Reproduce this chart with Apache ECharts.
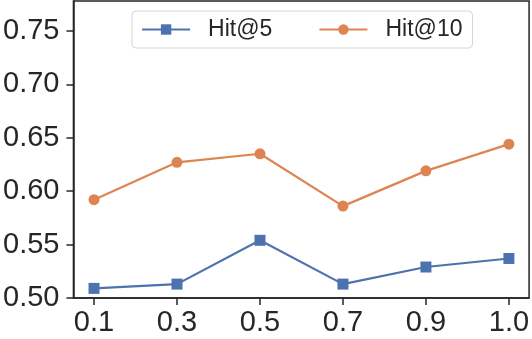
<!DOCTYPE html>
<html>
<head>
<meta charset="utf-8">
<script src="https://cdn.jsdelivr.net/npm/echarts@6/dist/echarts.min.js"></script>
<style>
html, body { margin: 0; padding: 0; background: #fff; }
#main { width: 532px; height: 339px; }
</style>
</head>
<body>
<div id="main"></div>
<script>
(function(){
// x tick labels (evenly spaced)
var xLabels = ['0.1', '0.3', '0.5', '0.7', '0.9', '1.0'];
var yTicks = [0.50, 0.55, 0.60, 0.65, 0.70, 0.75];
var hit5 = [0.509, 0.513, 0.554, 0.513, 0.529, 0.537];
var hit10 = [0.592, 0.627, 0.635, 0.586, 0.619, 0.644];

var ink = '#262626';
var font = 'Liberation Sans, Arial, sans-serif';

function pairs(arr){
    return arr.map(function (v, i) { return [i, v]; });
}

var myChart = echarts.init(document.getElementById('main'));
var option = {
    animation: false,
    backgroundColor: '#fff',
    grid: {
        left: 72, right: 1, top: 1, bottom: 41,
        show: true,
        borderColor: ink,
        borderWidth: 1.5
    },
    legend: {
        left: 132, top: 11,
        padding: [7, 10, 7, 9],
        itemWidth: 48,
        itemHeight: 13,
        itemGap: 46,
        backgroundColor: '#fff',
        borderColor: '#d6d6d6',
        borderWidth: 1,
        borderRadius: 4,
        lineStyle: { width: 2.2 },
        textStyle: { fontFamily: font, fontSize: 23, color: ink, padding: [0, 0, 0, 13] },
        data: ['Hit@5', 'Hit@10']
    },
    xAxis: {
        type: 'value',
        min: -0.248, max: 5.243,
        splitLine: { show: false },
        axisLine: { onZero: false, lineStyle: { color: ink, width: 1.5 } },
        axisTick: { length: 7, lineStyle: { color: ink, width: 1.5 }, customValues: [0, 1, 2, 3, 4, 5] },
        axisLabel: {
            customValues: [0, 1, 2, 3, 4, 5],
            margin: 10,
            fontFamily: font, fontSize: 29, color: ink,
            formatter: function (v) { return xLabels[Math.round(v)]; }
        }
    },
    yAxis: {
        type: 'value',
        min: 0.5, max: 0.778,
        splitLine: { show: false },
        axisLine: { show: true, onZero: false, lineStyle: { color: ink, width: 1.5 } },
        axisTick: { show: true, length: 7, lineStyle: { color: ink, width: 1.5 }, customValues: yTicks },
        axisLabel: {
            customValues: yTicks,
            margin: 14,
            fontFamily: font, fontSize: 29, color: ink,
            formatter: function (v) { return v.toFixed(2); }
        }
    },
    series: [
        {
            name: 'Hit@5',
            type: 'line',
            data: pairs(hit5),
            symbol: 'rect',
            symbolSize: 11,
            color: '#4c72b0',
            lineStyle: { width: 2.2 }
        },
        {
            name: 'Hit@10',
            type: 'line',
            data: pairs(hit10),
            symbol: 'circle',
            symbolSize: 11,
            color: '#dd8452',
            lineStyle: { width: 2.2 }
        }
    ]
};
myChart.setOption(option);
})();
</script>
</body>
</html>
